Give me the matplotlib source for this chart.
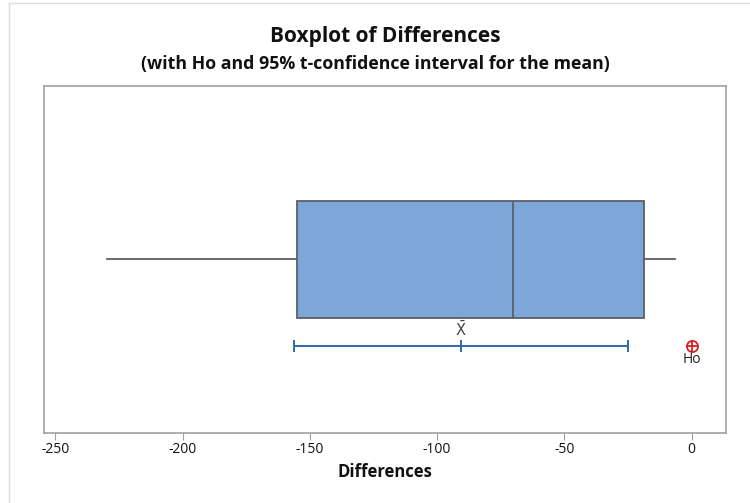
import matplotlib
matplotlib.use('Agg')
import matplotlib.pyplot as plt
from matplotlib.lines import Line2D

plt.rcParams['font.family'] = ['Open Sans', 'DejaVu Sans']

# boxplot summary of the differences
q1 = -155.1
median = -70.1
q3 = -18.7
whisker_lo = -229.5
whisker_hi = -6.6

# 95% t-confidence interval for the mean
mean = -90.7
ci_lo = -156.3
ci_hi = -25.1
h0 = 0

xticks = [-250, -200, -150, -100, -50, 0]

fig = plt.figure(figsize=(7.5, 5.03), dpi=100)
ax = fig.add_axes([0.0587, 0.1398, 0.9093, 0.6893])

# faint outer frame (top and left edges)
fig.add_artist(Line2D([0.012, 1], [0.994, 0.994], transform=fig.transFigure, color='#dddddd', lw=1))
fig.add_artist(Line2D([0.012, 0.012], [0, 0.994], transform=fig.transFigure, color='#dddddd', lw=1))

stats = [dict(med=median, q1=q1, q3=q3, whislo=whisker_lo, whishi=whisker_hi, fliers=[])]
ax.bxp(stats, positions=[0.5], widths=0.336, orientation='horizontal',
       patch_artist=True, showcaps=False, showfliers=False,
       boxprops=dict(facecolor='#7da7d9', edgecolor='#5a5f66', linewidth=1.3),
       medianprops=dict(color='#5a5f66', linewidth=1.3),
       whiskerprops=dict(color='#5a5f66', linewidth=1.3))

# confidence interval
ci_y = 0.25
ax.errorbar([mean], [ci_y], xerr=[[mean - ci_lo], [ci_hi - mean]],
            fmt='none', ecolor='#2e6aa6', elinewidth=1.4, capsize=4, capthick=1.4)
ax.plot([mean], [ci_y], marker='|', color='#2e6aa6', markersize=8, markeredgewidth=1.4)
ax.text(mean, ci_y + 0.016, r'$\bar{\mathrm{X}}$', ha='center', va='bottom',
        fontsize=10.5, color='#444444')

# hypothesized mean
ax.plot([h0], [ci_y], marker='o', markersize=8, markerfacecolor='none',
        markeredgecolor='#d62020', markeredgewidth=1.3)
ax.plot([h0], [ci_y], marker='+', markersize=8, color='#d62020', markeredgewidth=1.3)
ax.text(h0, ci_y - 0.018, 'Ho', ha='center', va='top', fontsize=10, color='#222222')

ax.set_xlim(-254.4, 13.5)
ax.set_ylim(0, 1)
ax.set_yticks([])
ax.set_xticks(xticks)
ax.set_xticklabels([str(t) for t in xticks])
ax.tick_params(axis='x', direction='out', length=5, color='#a0a0a0', labelsize=10,
               labelcolor='#111111', pad=2)
for s in ax.spines.values():
    s.set_color('#a0a0a0')
    s.set_linewidth(1.2)

ax.set_xlabel('Differences', fontsize=12, fontweight='bold', color='#111111', labelpad=4)

fig.text(0.513, 0.927, 'Boxplot of Differences', ha='center', va='center',
         fontsize=15, fontweight='bold', color='#111111')
fig.text(0.5, 0.873, '(with Ho and 95% t-confidence interval for the mean)',
         ha='center', va='center', fontsize=12.8, fontweight='bold', color='#111111')

fig.savefig('out.png', dpi=100)
